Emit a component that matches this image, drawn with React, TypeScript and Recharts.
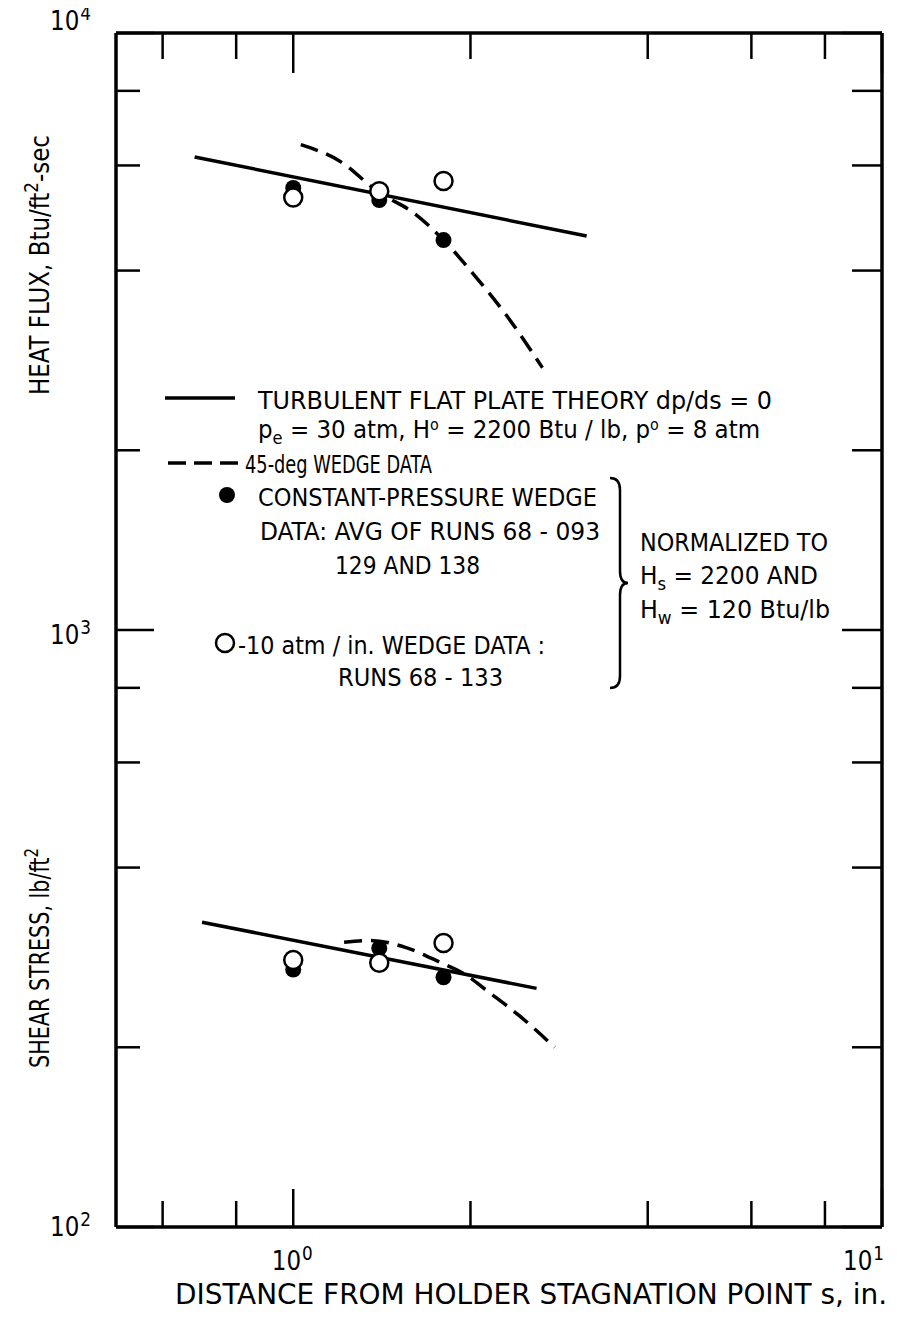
import React from 'react';
import { ComposedChart, Line, Scatter, XAxis, YAxis, Customized } from 'recharts';

const W = 901;
const H = 1319;
const FONT = "'DejaVu Sans Condensed', 'Liberation Sans Narrow', 'Roboto Condensed', 'DejaVu Sans', sans-serif";

// ---- axes ----
const xTicks = [0.6, 0.8, 1, 2, 4, 6, 8, 10];
const yTicks = [100, 200, 400, 600, 800, 1000, 2000, 4000, 6000, 8000, 10000];
const xMajor = [1, 10];
const yMajor = [100, 1000, 10000];
const xTickLabels: Record<number, [string, string]> = { 1: ['10', '0'], 10: ['10', '1'] };
const yTickLabels: Record<number, [string, string]> = { 100: ['10', '2'], 1000: ['10', '3'], 10000: ['10', '4'] };

// ---- data: distance s (in.) ----
const stations = [1.0, 1.4, 1.8];
const heatFilled = [5500, 5250, 4500];
const heatOpen = [5300, 5430, 5650];
const shearFilled = [270, 293, 262];
const shearOpen = [280, 277, 299];

const heatTheoryX = [0.68, 3.15];
const heatTheoryY = [6200, 4570];
const shearTheoryX = [0.7, 2.59];
const shearTheoryY = [324, 251];

const heatWedgeX = [1.03, 1.2, 1.4, 1.6, 1.8, 2.0, 2.3, 2.65];
const heatWedgeY = [6500, 6100, 5400, 5000, 4500, 4000, 3370, 2750];
const shearWedgeX = [1.22, 1.35, 1.55, 1.77, 1.97, 2.13, 2.42, 2.78];
const shearWedgeY = [300, 302, 294, 278, 264, 249, 226, 200];

const zip = (xs: number[], ys: number[]) => xs.map((x, i) => ({ x, y: ys[i] }));

const AX = { stroke: '#000', strokeWidth: 3.5 };

const Pow = ({ x, y, anchor, base, exp }: any) => (
  <text x={x} y={y} textAnchor={anchor} fontFamily={FONT} fontSize={26} fill="#000" textLength={41} lengthAdjust="spacingAndGlyphs">
    {base}
    <tspan dx={1} dy={-10} fontSize={19}>{exp}</tspan>
  </text>
);

const BottomTick = (props: any) => {
  const { x, y, payload } = props;
  const v = payload.value;
  const major = xMajor.includes(v);
  const lab = xTickLabels[v];
  return (
    <g>
      <line x1={x} y1={y} x2={x} y2={y - (major ? 38 : 26)} stroke="#000" strokeWidth={2.5} />
      {lab && (
        <Pow x={v === 10 ? x + 2 : x - 1} y={y + 43} anchor={v === 10 ? 'end' : 'middle'} base={lab[0]} exp={lab[1]} />
      )}
    </g>
  );
};

const TopTick = (props: any) => {
  const { x, y, payload } = props;
  const major = xMajor.includes(payload.value);
  return <line x1={x} y1={y} x2={x} y2={y + (major ? 40 : 26)} stroke="#000" strokeWidth={2.5} />;
};

const labelDy: Record<number, number> = { 10000: -3, 1000: 14, 100: 9 };

const LeftTick = (props: any) => {
  const { x, y, payload } = props;
  const v = payload.value;
  const major = yMajor.includes(v);
  const lab = yTickLabels[v];
  return (
    <g>
      <line x1={x} y1={y} x2={x + (major ? 38 : 24)} y2={y} stroke="#000" strokeWidth={2.5} />
      {lab && <Pow x={x - 25} y={y + labelDy[v]} anchor="end" base={lab[0]} exp={lab[1]} />}
    </g>
  );
};

const RightTick = (props: any) => {
  const { x, y, payload } = props;
  const major = yMajor.includes(payload.value);
  return <line x1={x} y1={y} x2={x - (major ? 40 : 30)} y2={y} stroke="#000" strokeWidth={2.5} />;
};

const FilledDot = (p: any) => <circle cx={p.cx} cy={p.cy} r={8} fill="#000" />;
const OpenDot = (p: any) => <circle cx={p.cx} cy={p.cy} r={9} fill="#fff" stroke="#000" strokeWidth={2.5} />;

const T = ({ x, y, w, size = 24, anchor = 'start', children }: any) => (
  <text x={x} y={y} fontFamily={FONT} fontSize={size} textAnchor={anchor} fill="#000" textLength={w} lengthAdjust="spacingAndGlyphs">
    {children}
  </text>
);

const Overlay = () => (
  <g transform="translate(8,8)">
    {/* axis titles */}
    <g transform="translate(41,257) rotate(-90)">
      <T x={0} y={0} w={260} anchor="middle" size={26}>
        HEAT FLUX, Btu/ft<tspan dy={-11} fontSize={19}>2</tspan>
        <tspan dy={11}>-sec</tspan>
      </T>
    </g>
    <g transform="translate(41,950) rotate(-90)">
      <T x={0} y={0} w={220} anchor="middle" size={26}>
        SHEAR STRESS, lb/ft<tspan dy={-11} fontSize={19}>2</tspan>
      </T>
    </g>
    <T x={167} y={1296} w={712} size={29}>DISTANCE FROM HOLDER STAGNATION POINT s, in.</T>

    {/* legend */}
    <line x1={157} y1={390} x2={227} y2={390} stroke="#000" strokeWidth={3.5} />
    <T x={250} y={401} w={514}>TURBULENT FLAT PLATE THEORY  dp/ds = 0</T>
    <T x={250} y={430} w={502}>
      p<tspan dy={6} fontSize={17}>e</tspan>
      <tspan dy={-6}> = 30 atm, H</tspan>
      <tspan dy={-8} fontSize={15}>o</tspan>
      <tspan dy={8}> = 2200 Btu / lb, p</tspan>
      <tspan dy={-8} fontSize={15}>o</tspan>
      <tspan dy={8}> = 8 atm</tspan>
    </T>
    <line x1={160} y1={455} x2={230} y2={455} stroke="#000" strokeWidth={3.5} strokeDasharray="18 8" />
    <T x={237} y={465} w={187}>45-deg WEDGE DATA</T>
    <circle cx={219} cy={487} r={8} fill="#000" />
    <T x={250} y={498} w={339}>CONSTANT-PRESSURE WEDGE</T>
    <T x={252} y={532} w={340}>DATA:  AVG  OF RUNS  68 - 093</T>
    <T x={327} y={566} w={145}>129 AND 138</T>
    <circle cx={217} cy={635} r={9} fill="#fff" stroke="#000" strokeWidth={2.5} />
    <T x={230} y={646} w={307}>-10 atm / in. WEDGE DATA :</T>
    <T x={330} y={678} w={165}>RUNS  68 - 133</T>
    <path d="M 602 470 Q 612 470 612 482 L 612 563 Q 612 575 620 575 Q 612 575 612 587 L 612 668 Q 612 680 602 680" fill="none" stroke="#000" strokeWidth={2.5} />
    <T x={632} y={543} w={188}>NORMALIZED TO</T>
    <T x={632} y={576} w={178}>
      H<tspan dy={6} fontSize={17}>s</tspan>
      <tspan dy={-6}> = 2200 AND</tspan>
    </T>
    <T x={632} y={610} w={190}>
      H<tspan dy={6} fontSize={17}>w</tspan>
      <tspan dy={-6}> = 120 Btu/lb</tspan>
    </T>
  </g>
);

export default function App() {
  return (
    <div style={{ width: W, height: H, background: '#fff', margin: '-8px 0 0 -8px' }}>
      <ComposedChart width={W} height={H} margin={{ top: 23, left: 76, right: 9, bottom: 52 }}>
        <XAxis xAxisId={0} type="number" dataKey="x" scale="log" domain={[0.5, 10]} allowDataOverflow ticks={xTicks}
          interval={0} tickSize={0} tickMargin={0} height={40} axisLine={AX} tickLine={false} tick={<BottomTick />} />
        <XAxis xAxisId="top" orientation="top" type="number" dataKey="x" scale="log" domain={[0.5, 10]} allowDataOverflow ticks={xTicks}
          interval={0} tickSize={0} tickMargin={0} height={10} axisLine={AX} tickLine={false} tick={<TopTick />} />
        <YAxis yAxisId={0} type="number" dataKey="y" scale="log" domain={[100, 10000]} allowDataOverflow ticks={yTicks}
          interval={0} tickSize={0} tickMargin={0} width={40} axisLine={AX} tickLine={false} tick={<LeftTick />} />
        <YAxis yAxisId="right" orientation="right" type="number" dataKey="y" scale="log" domain={[100, 10000]} allowDataOverflow ticks={yTicks}
          interval={0} tickSize={0} tickMargin={0} width={10} axisLine={AX} tickLine={false} tick={<RightTick />} />

        <Line data={zip(heatTheoryX, heatTheoryY)} dataKey="y" type="linear" stroke="#000" strokeWidth={3.5} dot={false} isAnimationActive={false} />
        <Line data={zip(shearTheoryX, shearTheoryY)} dataKey="y" type="linear" stroke="#000" strokeWidth={3.5} dot={false} isAnimationActive={false} />
        <Line data={zip(heatWedgeX, heatWedgeY)} dataKey="y" type="monotone" stroke="#000" strokeWidth={3.5} strokeDasharray="18 9" dot={false} isAnimationActive={false} />
        <Line data={zip(shearWedgeX, shearWedgeY)} dataKey="y" type="monotone" stroke="#000" strokeWidth={3.5} strokeDasharray="18 9" dot={false} isAnimationActive={false} />

        <Scatter data={zip(stations, heatFilled)} dataKey="y" shape={FilledDot} isAnimationActive={false} />
        <Scatter data={zip(stations, shearFilled)} dataKey="y" shape={FilledDot} isAnimationActive={false} />
        <Scatter data={zip(stations, heatOpen)} dataKey="y" shape={OpenDot} isAnimationActive={false} />
        <Scatter data={zip(stations, shearOpen)} dataKey="y" shape={OpenDot} isAnimationActive={false} />

        <Customized component={<Overlay />} />
      </ComposedChart>
    </div>
  );
}
